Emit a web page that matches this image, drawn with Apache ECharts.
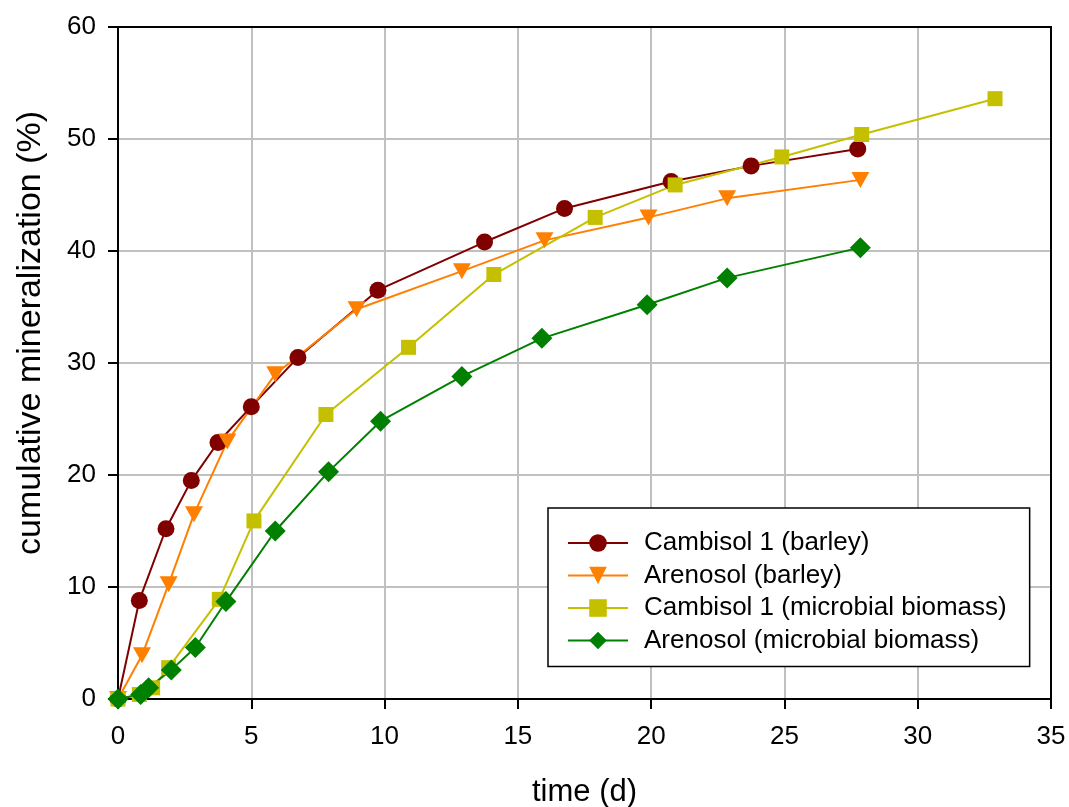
<!DOCTYPE html>
<html>
<head>
<meta charset="utf-8">
<script src="https://cdn.jsdelivr.net/npm/echarts@6/dist/echarts.min.js"></script>
<style>html,body{margin:0;padding:0;background:#fff}#c{width:1069px;height:807px}</style>
</head>
<body>
<div id="c"></div>
<script>
// ---- data ----
const seriesNames = ['Cambisol 1 (barley)', 'Arenosol (barley)', 'Cambisol 1 (microbial biomass)', 'Arenosol (microbial biomass)'];

const timeCambisolBarley = [0, 0.8, 1.8, 2.75, 3.75, 5, 6.75, 9.75, 13.75, 16.75, 20.75, 23.75, 27.75];
const minCambisolBarley  = [0, 8.8, 15.2, 19.5, 22.9, 26.1, 30.5, 36.5, 40.8, 43.8, 46.2, 47.6, 49.1];

const timeArenosolBarley = [0, 0.9, 1.9, 2.85, 4.1, 5.9, 8.95, 12.9, 16.0, 19.9, 22.85, 27.85];
const minArenosolBarley  = [0, 3.9, 10.25, 16.5, 23.0, 29.0, 34.8, 38.2, 40.95, 43.0, 44.7, 46.35];

const timeCambisolBiomass = [0, 0.8, 1.3, 1.9, 3.8, 5.1, 7.8, 10.9, 14.1, 17.9, 20.9, 24.9, 27.9, 32.9];
const minCambisolBiomass  = [0, 0.4, 1.0, 2.8, 8.9, 15.9, 25.4, 31.4, 37.9, 43.0, 45.9, 48.4, 50.4, 53.6];

const timeArenosolBiomass = [0, 0.85, 1.15, 2.0, 2.9, 4.05, 5.9, 7.9, 9.85, 12.9, 15.9, 19.85, 22.85, 27.85];
const minArenosolBiomass  = [0, 0.4, 1.0, 2.6, 4.6, 8.7, 15.0, 20.3, 24.8, 28.8, 32.2, 35.2, 37.6, 40.3];

const xTicks = [0, 5, 10, 15, 20, 25, 30, 35];
const yTicks = [0, 10, 20, 30, 40, 50, 60];
const xTitle = 'time (d)';
const yTitle = 'cumulative mineralization (%)';

// ---- build ----
function pairs(xs, ys) { return xs.map((x, i) => [x, ys[i]]); }

const FONT = '"Liberation Sans", Arial, sans-serif';
const styles = [
  { color: '#800000', symbol: 'circle', size: 17, rotate: 0 },
  { color: '#FF7F00', symbol: 'triangle', size: [18, 16], rotate: 180 },
  { color: '#C4C000', symbol: 'rect', size: 15, rotate: 0 },
  { color: '#008000', symbol: 'diamond', size: 21, rotate: 0 }
];
const datasets = [
  pairs(timeCambisolBarley, minCambisolBarley),
  pairs(timeArenosolBarley, minArenosolBarley),
  pairs(timeCambisolBiomass, minCambisolBiomass),
  pairs(timeArenosolBiomass, minArenosolBiomass)
];

const chart = echarts.init(document.getElementById('c'), null, { renderer: 'canvas' });

const gridL = 118, gridR = 18, gridT = 27, gridB = 108;
const frameAxis = { show: true, onZero: false, lineStyle: { color: '#000', width: 2 } };

chart.setOption({
  animation: false,
  backgroundColor: '#ffffff',
  textStyle: { fontFamily: FONT },
  grid: { left: gridL, right: gridR, top: gridT, bottom: gridB, show: true, borderColor: '#000', borderWidth: 2, backgroundColor: 'transparent' },
  xAxis: [{
    type: 'value', min: xTicks[0], max: xTicks[xTicks.length - 1], interval: 5,
    axisLine: { onZero: false, lineStyle: { color: '#000', width: 2 } },
    axisTick: { show: true, length: 10, lineStyle: { color: '#000', width: 2 } },
    axisLabel: { color: '#000', fontSize: 26, fontFamily: FONT, margin: 25 },
    splitLine: { show: true, lineStyle: { color: '#C0C0C0', width: 2 } }
  }, {
    type: 'value', position: 'top', min: xTicks[0], max: xTicks[xTicks.length - 1], interval: 5, z: 10,
    axisLine: frameAxis, axisTick: { show: false }, axisLabel: { show: false }, splitLine: { show: false }
  }],
  yAxis: [{
    type: 'value', min: yTicks[0], max: yTicks[yTicks.length - 1], interval: 10,
    axisLine: { show: true, onZero: false, lineStyle: { color: '#000', width: 2 } },
    axisTick: { show: true, length: 10, lineStyle: { color: '#000', width: 2 } },
    axisLabel: { color: '#000', fontSize: 26, fontFamily: FONT, margin: 22 },
    splitLine: { show: true, lineStyle: { color: '#C0C0C0', width: 2 } }
  }, {
    type: 'value', position: 'right', min: yTicks[0], max: yTicks[yTicks.length - 1], interval: 10, z: 10,
    axisLine: frameAxis, axisTick: { show: false }, axisLabel: { show: false }, splitLine: { show: false }
  }],
  legend: {
    orient: 'vertical',
    left: 548, top: 508,
    padding: [20, 23, 11, 19],
    backgroundColor: '#fff',
    borderColor: '#000', borderWidth: 1.5,
    itemWidth: 60, itemHeight: 22, itemGap: 2.5,
    textStyle: { color: '#000', fontSize: 26, fontFamily: FONT, lineHeight: 30, padding: [0, 0, 0, 11] },
    data: seriesNames
  },
  graphic: [
    { type: 'text', x: gridL + (1069 - gridL - gridR) / 2, y: 792,
      style: { text: xTitle, fill: '#000', font: '31px ' + FONT, align: 'center', verticalAlign: 'middle' } },
    { type: 'text', x: 31, y: 333, rotation: Math.PI / 2,
      style: { text: yTitle, fill: '#000', font: '34px ' + FONT, align: 'center', verticalAlign: 'middle' } }
  ],
  series: datasets.map((d, i) => ({
    name: seriesNames[i],
    type: 'line',
    xAxisIndex: 0,
    yAxisIndex: 0,
    data: d,
    symbol: styles[i].symbol,
    symbolSize: styles[i].size,
    symbolRotate: styles[i].rotate,
    showAllSymbol: true,
    clip: false,
    lineStyle: { color: styles[i].color, width: 2 },
    itemStyle: { color: styles[i].color, borderWidth: 0 },
    emphasis: { disabled: true }
  }))
});
</script>
</body>
</html>
